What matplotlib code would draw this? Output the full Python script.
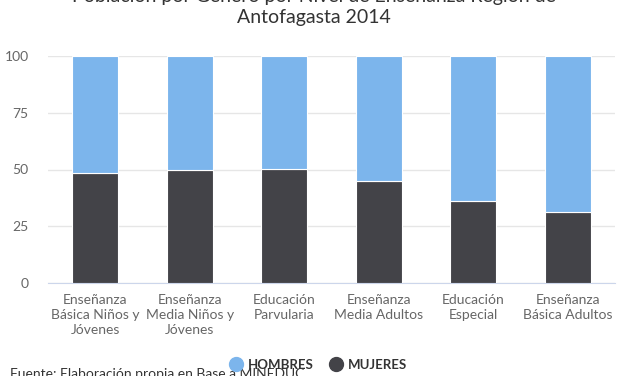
import matplotlib.pyplot as plt
from matplotlib.lines import Line2D

categorias = ['Enseñanza\nBásica Niños y\nJóvenes', 'Enseñanza\nMedia Niños y\nJóvenes',
              'Educación\nParvularia', 'Enseñanza\nMedia Adultos',
              'Educación\nEspecial', 'Enseñanza\nBásica Adultos']
mujeres = [48.5, 49.7, 50.1, 45.0, 36.2, 31.3]
hombres = [100 - m for m in mujeres]

plt.rcParams['font.family'] = ['Lato', 'DejaVu Sans']

fig = plt.figure(figsize=(6.27, 3.76), dpi=100)
ax = fig.add_axes([48 / 627, 1 - 283 / 376, (615 - 48) / 627, (283 - 56) / 376])

x = range(len(categorias))
ax.bar(x, mujeres, width=0.49, color='#434348', edgecolor='white', linewidth=0.8, zorder=3)
ax.bar(x, hombres, width=0.49, bottom=mujeres, color='#7cb5ec', edgecolor='white', linewidth=0.8, zorder=3)

ax.set_xlim(-0.5, 5.5)
ax.set_ylim(0, 100)
ax.set_yticks([0, 25, 50, 75, 100])
ax.set_xticks(list(x))
ax.set_xticklabels(categorias, fontsize=10, color='#666666', linespacing=1.3)
ax.tick_params(axis='y', labelsize=10, labelcolor='#666666', length=0, pad=14)
ax.tick_params(axis='x', length=0, pad=8)
ax.grid(axis='y', color='#e6e6e6', linewidth=1, zorder=0)
for s in ['top', 'right', 'left']:
    ax.spines[s].set_visible(False)
ax.spines['bottom'].set_color('#ccd6eb')

fig.text(0.5, 1 - (-3) / 376, 'Población por Genero por Nivel de Enseñanza Región de',
         ha='center', va='center', fontsize=14, color='#333333')
fig.text(0.5, 1 - 18 / 376, 'Antofagasta 2014',
         ha='center', va='center', fontsize=14, color='#333333')

handles = [Line2D([], [], marker='o', linestyle='', markersize=10, color='#7cb5ec'),
           Line2D([], [], marker='o', linestyle='', markersize=10, color='#434348')]
fig.legend(handles, ['HOMBRES', 'MUJERES'], loc='center', bbox_to_anchor=(318 / 627, 1 - 365 / 376),
           ncol=2, frameon=False, prop={'weight': 'bold', 'size': 9.5}, labelcolor='#333333',
           handletextpad=0.4, columnspacing=1.2, handlelength=1.0)

fig.text(10 / 627, 1 - 374 / 376, 'Fuente: Elaboración propia en Base a MINEDUC',
         ha='left', va='center', fontsize=10, color='#333333')

fig.savefig('out.png', dpi=100)
